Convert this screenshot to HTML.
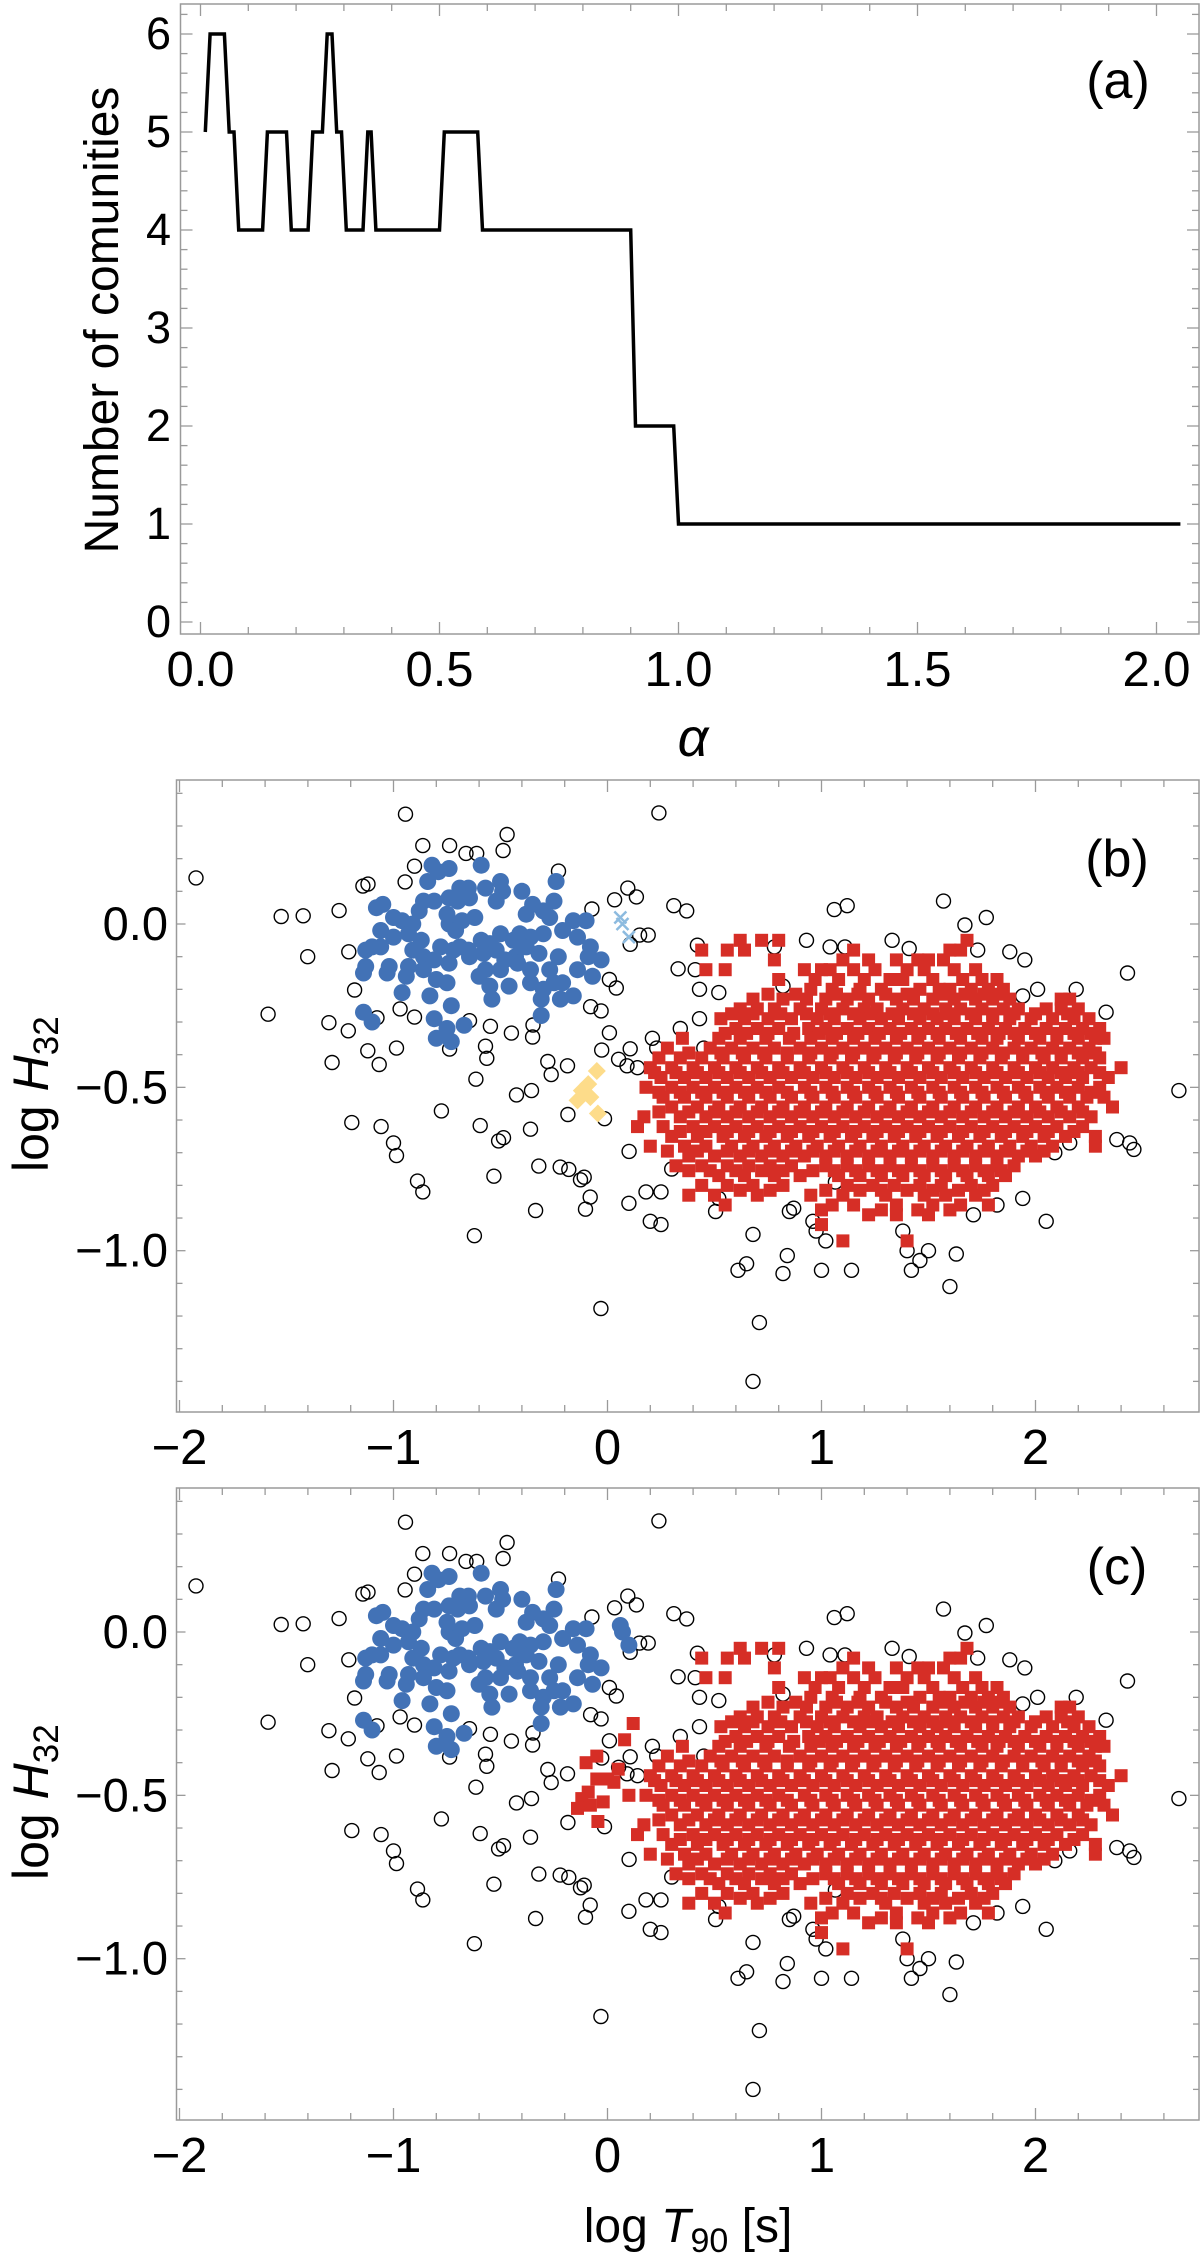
<!DOCTYPE html>
<html><head><meta charset="utf-8"><style>
html,body{margin:0;padding:0;background:#fff;}
svg{display:block;font-family:"Liberation Sans",Arial,sans-serif;}
</style></head><body>
<svg id="fig" width="1200" height="2260" viewBox="0 0 1200 2260" xmlns="http://www.w3.org/2000/svg">
<rect width="1200" height="2260" fill="#fff"/>
<g id="pa"></g>
<g id="pb"></g>
<g id="pc"></g>
</svg>
<script>
// ---------- Panel (a) data ----------
const alphaVals = [0.01,0.02,0.05,0.06,0.07,0.08,0.13,0.14,0.18,0.19,0.225,0.235,0.255,0.265,0.275,0.285,0.295,0.305,0.34,0.35,0.357,0.367,0.50,0.51,0.58,0.59,0.90,0.91,0.99,1.0,2.05];
const communityCounts = [5,6,6,5,5,4,4,5,5,4,4,5,5,6,6,5,5,4,4,5,5,4,4,5,5,4,4,2,2,1,1];
const aXTicks = [0,0.5,1.0,1.5,2.0];
const aXTickLabels = ["0.0","0.5","1.0","1.5","2.0"];
const aYTicks = [0,1,2,3,4,5,6];
const aYTickLabels = ["0","1","2","3","4","5","6"];

// ---------- Panels (b),(c) data ----------
const bcXTicks = [-2,-1,0,1,2];
const bcXTickLabels = ["\u22122","\u22121","0","1","2"];
const bcYTicks = [0,-0.5,-1.0];
const bcYTickLabels = ["0.0","\u22120.5","\u22121.0"];

const unclassified = [
[-0.944,0.336],[-0.469,0.274],[-0.863,0.240],[-0.738,0.240],[-0.661,0.216],[-0.611,0.216],[-0.488,0.225],[-0.902,0.177],[-0.946,0.129],[-1.923,0.141],[-1.143,0.116],[-1.119,0.122],[-0.229,0.162],[-1.525,0.023],[-1.422,0.025],[-1.254,0.041],[-1.401,-0.100],[-1.209,-0.085],[0.095,0.110],[0.033,0.074],[-0.073,0.046],[0.106,-0.062],[-1.182,-0.202],[-1.586,-0.276],[-1.302,-0.302],[-1.211,-0.327],[-1.077,-0.287],[-0.969,-0.260],[-0.902,-0.285],[0.009,-0.170],[0.041,-0.196],[-0.079,-0.253],[-0.030,-0.266],[0.009,-0.333],[-0.645,-0.296],[-0.547,-0.313],[-0.449,-0.334],[-0.348,-0.309],[-0.350,-0.346],[-1.120,-0.388],[-0.986,-0.380],[-1.287,-0.424],[-1.067,-0.430],[-0.738,-0.383],[-0.570,-0.374],[-0.564,-0.411],[-0.279,-0.421],[-0.263,-0.461],[-0.187,-0.434],[-0.027,-0.386],[0.106,-0.382],[0.052,-0.414],[0.091,-0.434],[-0.615,-0.475],[-0.425,-0.523],[-0.355,-0.510],[-0.776,-0.572],[-1.195,-0.608],[-1.058,-0.620],[-1.000,-0.670],[-0.986,-0.709],[-0.595,-0.617],[-0.509,-0.664],[-0.486,-0.654],[-0.360,-0.628],[-0.185,-0.583],[-0.014,-0.596],[0.101,-0.696],[-0.888,-0.787],[-0.863,-0.820],[-0.531,-0.772],[-0.321,-0.741],[-0.221,-0.744],[-0.181,-0.751],[-0.126,-0.783],[-0.109,-0.775],[-0.081,-0.836],[-0.103,-0.873],[-0.336,-0.877],[0.100,-0.855],[-0.622,-0.954],[-0.031,-1.177],
[0.24,0.34],[0.135,0.083],[0.31,0.056],[0.37,0.04],[0.15,-0.034],[0.19,-0.034],[0.42,-0.065],[0.33,-0.137],[0.41,-0.14],[0.43,-0.20],[0.52,-0.21],[0.43,-0.29],[0.34,-0.32],[0.21,-0.35],[0.23,-0.38],[0.45,-0.38],[0.14,-0.44],[0.30,-0.75],[0.18,-0.82],[0.25,-0.82],[0.20,-0.91],[0.25,-0.92],[0.52,-0.84],[0.505,-0.88],[0.68,-0.95],[0.85,-0.88],[0.87,-0.87],[0.96,-0.91],[0.975,-0.94],[1.02,-0.97],[1.065,-0.79],[0.84,-1.015],[0.65,-1.04],[0.61,-1.06],[0.82,-1.07],[1.0,-1.06],[1.14,-1.06],[0.71,-1.22],[0.68,-1.40],[1.38,-0.94],[1.40,-1.00],[1.50,-1.00],[1.46,-1.03],[1.42,-1.06],[1.63,-1.01],[1.60,-1.11],[1.71,-0.89],[1.82,-0.86],[1.94,-0.84],[2.05,-0.91],[2.09,-0.70],[2.16,-0.67],[2.38,-0.66],[2.44,-0.67],[2.46,-0.69],[2.67,-0.51],[2.33,-0.27],[2.43,-0.15],[2.19,-0.20],[2.01,-0.20],[1.94,-0.22],[1.88,-0.085],[1.95,-0.11],[1.73,-0.08],[1.77,0.02],[1.67,-0.003],[1.57,0.07],[1.41,-0.075],[1.33,-0.05],[1.06,0.044],[1.12,0.056],[0.93,-0.05],[1.04,-0.07],[1.11,-0.07],[0.78,-0.07],[0.82,-0.19]
];

const shortGroup = [
[-0.82,0.18],[-0.74,0.17],[-0.79,0.16],[-0.84,0.13],[-0.59,0.18],[-0.69,0.11],[-0.65,0.11],[-0.57,0.11],[-0.50,0.13],[-0.49,0.10],[-0.52,0.07],[-0.40,0.10],[-0.24,0.13],[-0.25,0.07],[-0.35,0.06],[-0.30,0.04],[-0.27,0.02],[-0.38,0.03],[-0.86,0.07],[-0.81,0.07],[-0.88,0.04],[-0.74,0.08],[-0.70,0.07],[-0.645,0.08],[-1.08,0.05],[-1.05,0.06],[-1.00,0.02],[-0.96,0.01],[-0.91,0.00],[-1.06,-0.02],[-1.00,-0.04],[-0.93,-0.03],[-0.87,-0.05],[-0.74,0.00],[-0.71,-0.02],[-0.62,0.02],[-0.75,0.03],[-0.68,0.01],[-1.13,-0.08],[-1.10,-0.07],[-1.06,-0.07],[-0.91,-0.08],[-0.86,-0.10],[-0.78,-0.07],[-0.69,-0.07],[-0.65,-0.08],[-0.59,-0.05],[-0.55,-0.06],[-0.50,-0.03],[-0.41,-0.03],[-0.36,-0.04],[-0.30,-0.03],[-0.21,-0.02],[-0.16,0.01],[-0.10,0.01],[-0.14,-0.04],[-0.08,-0.07],[-0.09,-0.10],[-0.03,-0.11],[-0.07,-0.16],[-0.14,-0.14],[-0.23,-0.10],[-0.32,-0.09],[-0.38,-0.07],[-0.43,-0.10],[-0.48,-0.11],[-0.52,-0.08],[-0.58,-0.09],[-0.645,-0.10],[-0.72,-0.08],[-0.74,-0.12],[-0.81,-0.11],[-0.86,-0.14],[-0.93,-0.13],[-0.94,-0.16],[-1.02,-0.13],[-1.03,-0.15],[-1.13,-0.13],[-1.14,-0.15],[-0.80,-0.17],[-0.75,-0.18],[-0.83,-0.22],[-0.57,-0.14],[-0.60,-0.16],[-0.55,-0.19],[-0.54,-0.23],[-0.46,-0.19],[-0.50,-0.14],[-0.42,-0.12],[-0.36,-0.14],[-0.36,-0.18],[-0.30,-0.20],[-0.25,-0.18],[-0.22,-0.23],[-0.21,-0.18],[-0.31,-0.23],[-0.31,-0.28],[-0.27,-0.14],[-0.16,-0.22],[-0.96,-0.21],[-0.73,-0.25],[-0.81,-0.29],[-0.80,-0.35],[-0.75,-0.32],[-0.73,-0.36],[-0.67,-0.31],[-1.14,-0.27],[-1.10,-0.30],[-0.44,-0.05],[-0.40,-0.07]
];

const crossGroup = [[0.06,0.02],[0.07,0.0],[0.10,-0.04]];
const diamondGroup = [[-0.05,-0.45],[-0.09,-0.49],[-0.12,-0.51],[-0.08,-0.53],[-0.14,-0.54],[-0.045,-0.58]];
const extraLongC = [[-0.1,-0.40],[-0.05,-0.38],[0.0,-0.45],[0.05,-0.42],[0.08,-0.33],[0.03,-0.46],[0.12,-0.28],[0.10,-0.50],[-0.02,-0.52]];

const longRowY = [-0.05,-0.08,-0.11,-0.14,-0.17,-0.20,-0.23,-0.26,-0.29,-0.32,-0.35,-0.38,-0.41,-0.44,-0.47,-0.50,-0.53,-0.56,-0.59,-0.62,-0.65,-0.68,-0.71,-0.74,-0.77,-0.80,-0.83,-0.86,-0.89,-0.92,-0.97];
const longRowX = [
[0.62,0.72,0.80,1.68],
[0.44,0.56,0.64,1.15,1.60,1.65],
[0.78,1.10,1.22,1.35,1.45,1.50,1.57],
[0.46,0.55,0.92,1.00,1.04,1.15,1.25,1.40,1.48,1.62,1.72],
[0.80,0.97,1.08,1.20,1.32,1.38,1.52,1.66,1.75,1.82],
[0.95,1.05,1.18,1.28,1.46,1.55,1.60,1.70,1.78,1.85],
[0.68,0.82,0.93,1.02,1.12,1.22,1.35,1.43,1.52,1.62,1.72,1.80,1.88,2.12,2.16],
[0.62,0.70,0.78,0.90,1.00,1.10,1.20,1.26,1.38,1.48,1.58,1.65,1.75,1.85,1.92,2.05,2.12,2.20],
[0.53,0.64,0.75,0.86,0.98,1.06,1.18,1.28,1.36,1.46,1.54,1.62,1.72,1.80,1.88,1.98,2.08,2.18,2.25],
[0.60,0.70,0.80,0.94,1.02,1.12,1.22,1.32,1.42,1.50,1.58,1.68,1.78,1.86,1.95,2.05,2.14,2.22,2.30],
[0.35,0.52,0.62,0.74,0.85,0.95,1.05,1.15,1.25,1.35,1.45,1.55,1.65,1.75,1.82,1.92,2.02,2.10,2.20,2.28,2.32],
[0.28,0.48,0.58,0.68,0.78,0.90,1.00,1.10,1.20,1.30,1.40,1.50,1.60,1.70,1.80,1.90,1.98,2.08,2.16,2.25],
[0.24,0.34,0.44,0.54,0.64,0.74,0.84,0.94,1.04,1.14,1.24,1.34,1.44,1.54,1.64,1.74,1.84,1.94,2.04,2.12,2.22,2.30],
[0.20,0.30,0.40,0.50,0.60,0.70,0.80,0.90,1.00,1.10,1.20,1.30,1.40,1.50,1.60,1.70,1.80,1.90,2.00,2.08,2.18,2.26,2.40],
[0.25,0.36,0.46,0.56,0.66,0.76,0.86,0.96,1.06,1.16,1.26,1.36,1.46,1.56,1.66,1.76,1.86,1.96,2.06,2.14,2.22,2.34],
[0.18,0.30,0.40,0.50,0.60,0.70,0.80,0.92,1.02,1.12,1.22,1.32,1.42,1.52,1.62,1.72,1.82,1.92,2.02,2.10,2.20,2.30],
[0.26,0.36,0.46,0.56,0.66,0.76,0.86,0.96,1.06,1.16,1.26,1.36,1.46,1.56,1.66,1.76,1.86,1.96,2.06,2.16,2.24,2.32],
[0.30,0.42,0.52,0.62,0.72,0.82,0.92,1.02,1.12,1.22,1.32,1.42,1.52,1.62,1.72,1.82,1.92,2.00,2.10,2.20,2.36],
[0.17,0.34,0.46,0.56,0.66,0.76,0.86,0.96,1.06,1.16,1.26,1.36,1.46,1.56,1.66,1.76,1.86,1.96,2.06,2.16,2.26],
[0.14,0.26,0.40,0.50,0.60,0.70,0.80,0.90,1.00,1.10,1.20,1.30,1.40,1.50,1.60,1.70,1.80,1.90,2.00,2.10,2.22],
[0.30,0.42,0.54,0.64,0.74,0.84,0.94,1.04,1.14,1.24,1.34,1.44,1.54,1.64,1.74,1.84,1.94,2.04,2.14,2.28],
[0.20,0.36,0.46,0.58,0.68,0.78,0.88,0.98,1.08,1.18,1.28,1.38,1.48,1.58,1.68,1.78,1.88,1.98,2.08,2.28],
[0.38,0.50,0.62,0.72,0.82,0.92,1.02,1.12,1.22,1.32,1.42,1.52,1.62,1.72,1.82,1.92,2.00],
[0.32,0.44,0.56,0.66,0.76,0.86,1.02,1.12,1.22,1.32,1.42,1.52,1.62,1.72,1.82,1.90],
[0.52,0.64,0.78,0.90,1.08,1.18,1.28,1.38,1.48,1.58,1.68,1.78,1.86],
[0.44,0.56,0.68,0.82,1.12,1.24,1.34,1.46,1.56,1.70,1.80],
[0.38,0.50,0.70,0.95,1.10,1.30,1.48,1.58,1.72],
[0.55,1.05,1.15,1.35,1.52,1.65,1.78],
[1.22,1.35,1.50],
[1.00],
[1.10,1.40]
];
const longRowY2 = [-0.215,-0.275,-0.335,-0.395,-0.455,-0.515,-0.575,-0.635,-0.695,-0.755,-0.815,-0.875];
const longRowX2 = [
[0.75,0.88,1.07,1.17,1.30,1.40,1.57,1.67,1.76,1.83],
[0.58,0.68,0.81,0.93,1.04,1.15,1.23,1.33,1.43,1.52,1.60,1.70,1.80,1.90,2.00,2.15],
[0.55,0.65,0.75,0.87,0.99,1.07,1.17,1.27,1.37,1.46,1.54,1.63,1.73,1.83,1.90,2.00,2.10,2.18,2.26],
[0.38,0.53,0.63,0.73,0.84,0.95,1.05,1.15,1.25,1.35,1.45,1.55,1.65,1.75,1.85,1.94,2.03,2.12,2.20,2.28],
[0.22,0.32,0.42,0.52,0.62,0.72,0.82,0.92,1.02,1.12,1.22,1.32,1.42,1.52,1.62,1.72,1.82,1.92,2.02,2.12,2.20,2.30],
[0.24,0.34,0.44,0.54,0.64,0.74,0.84,0.95,1.05,1.15,1.25,1.35,1.45,1.55,1.65,1.75,1.85,1.95,2.05,2.14,2.26],
[0.24,0.38,0.50,0.60,0.70,0.80,0.90,1.00,1.10,1.20,1.30,1.40,1.50,1.60,1.70,1.80,1.90,2.02,2.12,2.22],
[0.34,0.46,0.56,0.66,0.76,0.86,0.96,1.06,1.16,1.26,1.36,1.46,1.56,1.66,1.76,1.86,1.96,2.06,2.18],
[0.28,0.42,0.56,0.66,0.76,0.86,0.96,1.06,1.16,1.26,1.36,1.46,1.56,1.66,1.76,1.86,1.96,2.04],
[0.38,0.48,0.60,0.72,0.82,0.96,1.06,1.16,1.26,1.36,1.46,1.56,1.66,1.76,1.84],
[0.62,0.76,1.02,1.18,1.28,1.40,1.52,1.64,1.76],
[1.00,1.28,1.45,1.60]
];

const NS = "http://www.w3.org/2000/svg";
function mk(parent, tag, attrs){
  const e = document.createElementNS(NS, tag);
  for (const k in attrs) e.setAttribute(k, attrs[k]);
  parent.appendChild(e);
  return e;
}
const GRAY = "#9a9a9a";

// ---------- Panel (a) ----------
(function(){
  const g = document.getElementById('pa');
  const L=180.5, R=1199, T=4, B=634;
  const xS = v => 200.5 + v*478;
  const yS = v => 622 - v*98;
  const fr = mk(g,'rect',{x:L,y:T,width:R-L,height:B-T,fill:'none',stroke:GRAY,'stroke-width':1.5});
  
  
  for (let i=0;i<=21;i++){
    const v=i*0.1, x=xS(v); if (x>R) break;
    const len = (i%5===0)?12:7;
    const t1=mk(g,'line',{x1:x,y1:B,x2:x,y2:B-len,stroke:GRAY,'stroke-width':1.3});
    
    
    const t2=mk(g,'line',{x1:x,y1:T,x2:x,y2:T+len,stroke:GRAY,'stroke-width':1.3});
    
    
  }
  for (let i=0;i<=31;i++){
    const v=i*0.2, y=yS(v); if (y<T) break;
    const len=(i%5===0)?12:7;
    const t1=mk(g,'line',{x1:L,y1:y,x2:L+len,y2:y,stroke:GRAY,'stroke-width':1.3});
    
    
    const t2=mk(g,'line',{x1:R,y1:y,x2:R-len,y2:y,stroke:GRAY,'stroke-width':1.3});
    
    
  }
  aXTicks.forEach((v,i)=>{
    const t=mk(g,'text',{x:xS(v),y:686,'text-anchor':'middle','font-size':49,fill:'#000'});
    t.textContent=aXTickLabels[i];
    
    
  });
  aYTicks.forEach((v,i)=>{
    const t=mk(g,'text',{x:171,y:yS(v)+15,'text-anchor':'end','font-size':45,fill:'#000'});
    t.textContent=aYTickLabels[i];
    
    
  });
  const pts = alphaVals.map((a,i)=>xS(a).toFixed(1)+','+yS(communityCounts[i]).toFixed(1)).join(' ');
  const pl = mk(g,'polyline',{points:pts,fill:'none',stroke:'#000','stroke-width':3.5,'stroke-linejoin':'miter'});
  
  
  const xt=mk(g,'text',{x:693,y:756,'text-anchor':'middle','font-size':54,'font-style':'italic',fill:'#000'});
  xt.textContent='α';
  
  
  const yt=mk(g,'text',{x:0,y:0,transform:'translate(118,320) rotate(-90)','text-anchor':'middle','font-size':48,fill:'#000'});
  yt.textContent='Number of comunities';
  
  
  const pl2=mk(g,'text',{x:1118,y:98,'text-anchor':'middle','font-size':52,fill:'#000'});
  pl2.textContent='(a)';
  
  
})();

// ---------- Panels (b),(c) ----------
function scatterPanel(id, T, B, label, isC){
  const g=document.getElementById(id);
  const L=176.5, R=1199;
  const y0 = T+144;
  const xS = v => 607.5 + v*214;
  const yS = v => y0 - v*326.7;
  const fr = mk(g,'rect',{x:L,y:T,width:R-L,height:B-T,fill:'none',stroke:GRAY,'stroke-width':1.5});
  
  
  for (let i=-10;i<=14;i++){
    const v=i*0.2, x=xS(v); if (x<L||x>R) continue;
    const len=(i%5===0)?12:7;
    const t1=mk(g,'line',{x1:x,y1:B,x2:x,y2:B-len,stroke:GRAY,'stroke-width':1.3});
    
    
    const t2=mk(g,'line',{x1:x,y1:T,x2:x,y2:T+len,stroke:GRAY,'stroke-width':1.3});
    
    
  }
  for (let i=-15;i<=4;i++){
    const v=i*0.1, y=yS(v); if (y<T||y>B) continue;
    const len=(i%5===0)?9:6;
    const t1=mk(g,'line',{x1:L,y1:y,x2:L+len,y2:y,stroke:GRAY,'stroke-width':1.3});
    
    
    const t2=mk(g,'line',{x1:R,y1:y,x2:R-len,y2:y,stroke:GRAY,'stroke-width':1.3});
    
    
  }
  bcXTicks.forEach((v,i)=>{
    const t=mk(g,'text',{x:xS(v),y:B+52,'text-anchor':'middle','font-size':49,fill:'#000'});
    t.textContent=bcXTickLabels[i];
    
    
  });
  bcYTicks.forEach((v,i)=>{
    const t=mk(g,'text',{x:168,y:yS(v)+16,'text-anchor':'end','font-size':47,fill:'#000'});
    t.textContent=bcYTickLabels[i];
    
    
  });
  const yt=mk(g,'text',{x:0,y:0,transform:'translate(48,'+(T+392)+') rotate(-90)','text-anchor':'start','font-size':50,fill:'#000'});
  
  
  const s1=mk(yt,'tspan',{}); s1.textContent='log ';
  const s2=mk(yt,'tspan',{'font-style':'italic'}); s2.textContent='H';
  const s3=mk(yt,'tspan',{'font-size':35,dy:10}); s3.textContent='32';
  const pl=mk(g,'text',{x:1117,y:T+96,'text-anchor':'middle','font-size':52,fill:'#000'});
  pl.textContent=label;
  
  

  const gc=mk(g,'g',{});
  
  
  unclassified.forEach(p=>{
    const c=mk(gc,'circle',{cx:xS(p[0]).toFixed(1),cy:yS(p[1]).toFixed(1),r:7,fill:'none',stroke:'#000','stroke-width':1.4});
    
    
  });
  const gr=mk(g,'g',{});
  
  
  const sq = (x,y)=>{
    const r=mk(gr,'rect',{x:(xS(x)-6.5).toFixed(1),y:(yS(y)-6.5).toFixed(1),width:13,height:13,fill:'#d62e26'});
    
    
  };
  longRowY.forEach((y,i)=>longRowX[i].forEach(x=>sq(x,y)));
  longRowY2.forEach((y,i)=>longRowX2[i].forEach(x=>sq(x,y)));
  if (isC){ extraLongC.forEach(p=>sq(p[0],p[1])); diamondGroup.forEach(p=>sq(p[0],p[1])); }
  const gb=mk(g,'g',{});
  
  
  const dot=(x,y)=>{
    const c=mk(gb,'circle',{cx:xS(x).toFixed(1),cy:yS(y).toFixed(1),r:8.5,fill:'#4272b6'});
    
    
  };
  shortGroup.forEach(p=>dot(p[0],p[1]));
  if (isC){ crossGroup.forEach(p=>dot(p[0],p[1])); }
  if (!isC){
    const gy=mk(g,'g',{});
    
    
    diamondGroup.forEach(p=>{
      const x=xS(p[0]), y=yS(p[1]);
      const d=mk(gy,'polygon',{points:`${x},${y-9} ${x+9},${y} ${x},${y+9} ${x-9},${y}`,fill:'#fddc8a'});
      
      
    });
    const gx=mk(g,'g',{});
    
    
    crossGroup.forEach(p=>{
      const x=xS(p[0]), y=yS(p[1]);
      const d=mk(gx,'path',{d:`M${x-6},${y-6}L${x+6},${y+6}M${x+6},${y-6}L${x-6},${y+6}`,stroke:'#8dbbdf','stroke-width':2.5,fill:'none'});
      
      
    });
  }
}
scatterPanel('pb',780,1412,'(b)',false);
scatterPanel('pc',1488,2120,'(c)',true);

(function(){
  const g=document.getElementById('pc');
  const t=mk(g,'text',{x:688,y:2242,'text-anchor':'middle','font-size':48,fill:'#000'});
  
  
  const a=mk(t,'tspan',{}); a.textContent='log ';
  const b=mk(t,'tspan',{'font-style':'italic'}); b.textContent='T';
  const c=mk(t,'tspan',{'font-size':34,dy:10}); c.textContent='90';
  const d=mk(t,'tspan',{dy:-10}); d.textContent=' [s]';
})();
</script>
</body></html>
